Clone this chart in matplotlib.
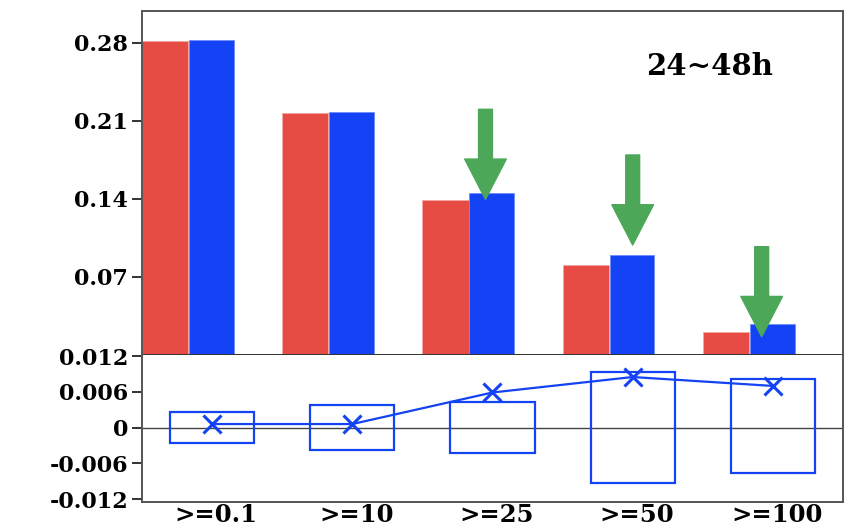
import numpy as np
import matplotlib

matplotlib.use('Agg')

import matplotlib.pyplot as plt
from matplotlib.patches import Rectangle

# thresholds and scores
labels   = ['>=0.1', '>=10', '>=25', '>=50', '>=100']
score_r  = [0.2821, 0.2174, 0.1391, 0.0808, 0.0209]
score_b  = [0.2827, 0.2178, 0.1451, 0.0897, 0.0278]

# difference (blue - red) and its confidence range
diff     = [0.0006, 0.0006, 0.0059, 0.0085, 0.0070]
ci_low   = [-0.0026, -0.0037, -0.0043, -0.0093, -0.0077]
ci_high  = [0.0026, 0.0038, 0.0043, 0.0093, 0.0081]

# green arrows: x position, tail and tip values
arr_x    = [1.95, 3.00, 3.92]
arr_tail = [0.2205, 0.1795, 0.0972]
arr_tip  = [0.1397, 0.0987, 0.0164]

red   = '#e74c44'
blue  = '#1442f5'
green = '#4ca858'
edge  = '#555555'

plt.rcParams['font.family'] = ['DejaVu Serif']

fig = plt.figure(figsize=(8.67, 5.27), dpi=100)
ax1 = fig.add_axes([0.1638, 0.3264, 0.8085, 0.6527])
ax2 = fig.add_axes([0.1638, 0.0474, 0.8085, 0.2790])

x = np.arange(len(labels))

# top panel: bars
ax1.bar(x - 0.335, score_r, width=0.33, color=red, edgecolor='#f4a8a0', linewidth=0.6)
ax1.bar(x - 0.005, score_b, width=0.32, color=blue, edgecolor='#6f8cff', linewidth=0.6)

for xa, yt, yh in zip(arr_x, arr_tail, arr_tip):
    ax1.annotate('', xy=(xa, yh), xytext=(xa, yt),
                 arrowprops=dict(arrowstyle='simple,head_length=2.9,head_width=3.0,tail_width=1.0',
                                 color=green, shrinkA=0, shrinkB=0, mutation_scale=10))

ax1.text(0.81, 0.84, '24~48h', transform=ax1.transAxes, fontsize=21,
         fontweight='bold', ha='center', va='center')

ax1.set_xlim(-0.5, 4.5)
ax1.set_ylim(0, 0.3087)
ax1.set_yticks([0.07, 0.14, 0.21, 0.28])
ax1.set_yticklabels(['0.07', '0.14', '0.21', '0.28'])
ax1.set_xticks([])

# bottom panel: difference with boxes
ax2.axhline(0, color='#444444', lw=1.0, zorder=1)
for xi, lo, hi in zip(x, ci_low, ci_high):
    ax2.add_patch(Rectangle((xi - 0.3, lo), 0.6, hi - lo, fill=False,
                            edgecolor=blue, lw=1.6, zorder=2))
ax2.plot(x, diff, color=blue, lw=1.6, marker='x', markersize=13,
         markeredgewidth=2.2, zorder=3)

ax2.set_xlim(-0.5, 4.5)
ax2.set_ylim(-0.0125, 0.0122)
ax2.set_yticks([-0.012, -0.006, 0, 0.006, 0.012])
ax2.set_yticklabels(['-0.012', '-0.006', '0', '0.006', '0.012'])
ax2.set_xticks(x + 0.03)
ax2.set_xticklabels(labels)

for ax in (ax1, ax2):
    for s in ax.spines.values():
        s.set_color(edge)
        s.set_linewidth(1.4)
    ax.tick_params(axis='y', direction='out', length=7, width=1.4, color='#333333',
                   labelsize=16, pad=3)
    for t in ax.get_yticklabels():
        t.set_fontweight('bold')

ax1.spines['bottom'].set_color('#333333')
ax2.spines['top'].set_visible(False)
ax2.tick_params(axis='x', length=0, labelsize=17.5, pad=1)
for t in ax2.get_xticklabels():
    t.set_fontweight('bold')

fig.savefig('out.png', dpi=100)
